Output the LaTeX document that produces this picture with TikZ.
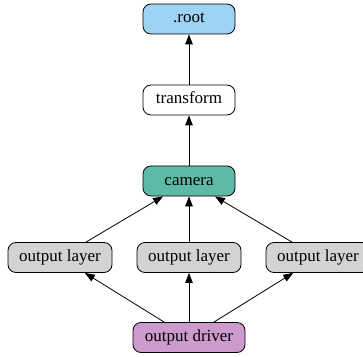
\documentclass[tikz,border=0pt]{standalone}
\usepackage{fontspec}
\setmainfont{Liberation Serif}
\usetikzlibrary{arrows.meta}
\definecolor{rootblue}{HTML}{9FD3F3}
\definecolor{camteal}{HTML}{5DBAA6}
\definecolor{layergray}{HTML}{D3D3D3}
\definecolor{driverplum}{HTML}{CC9ACC}
\begin{document}
\begin{tikzpicture}[x=1pt,y=1pt,
  box/.style={draw=black, line width=0.8pt, rounded corners=8pt,
    minimum height=30pt, inner sep=0pt, text height=11.5pt, text depth=3.5pt,
    font=\fontsize{17}{19}\selectfont},
  link/.style={draw=black, line width=0.8pt,
    -{Triangle[length=10pt,width=7.5pt]}}]
\useasboundingbox (0,0) rectangle (363,356);
% top to bottom: y measured from the bottom edge
\node[box, fill=rootblue, minimum width=92pt] (root) at (189,337) {.root};
\node[box, fill=white, minimum width=92pt] (transform) at (189,256) {transform};
\node[box, fill=camteal, minimum width=92pt] (camera) at (189,175) {camera};
\node[box, fill=layergray, minimum width=104pt] (layerA) at (60,98.5) {output layer};
\node[box, fill=layergray, minimum width=104pt] (layerB) at (189,98.5) {output layer};
\node[box, fill=layergray, minimum width=104pt] (layerC) at (318,98.5) {output layer};
\node[box, fill=driverplum, minimum width=112pt] (driver) at (189,18.5) {output driver};
% connectors
\draw[link] (transform) -- (root);
\draw[link] (camera) -- (transform);
\draw[link] (layerA) -- (camera);
\draw[link] (layerB) -- (camera);
\draw[link] (layerC) -- (camera);
\draw[link] (driver) -- (layerA);
\draw[link] (driver) -- (layerB);
\draw[link] (driver) -- (layerC);
\end{tikzpicture}
\end{document}
